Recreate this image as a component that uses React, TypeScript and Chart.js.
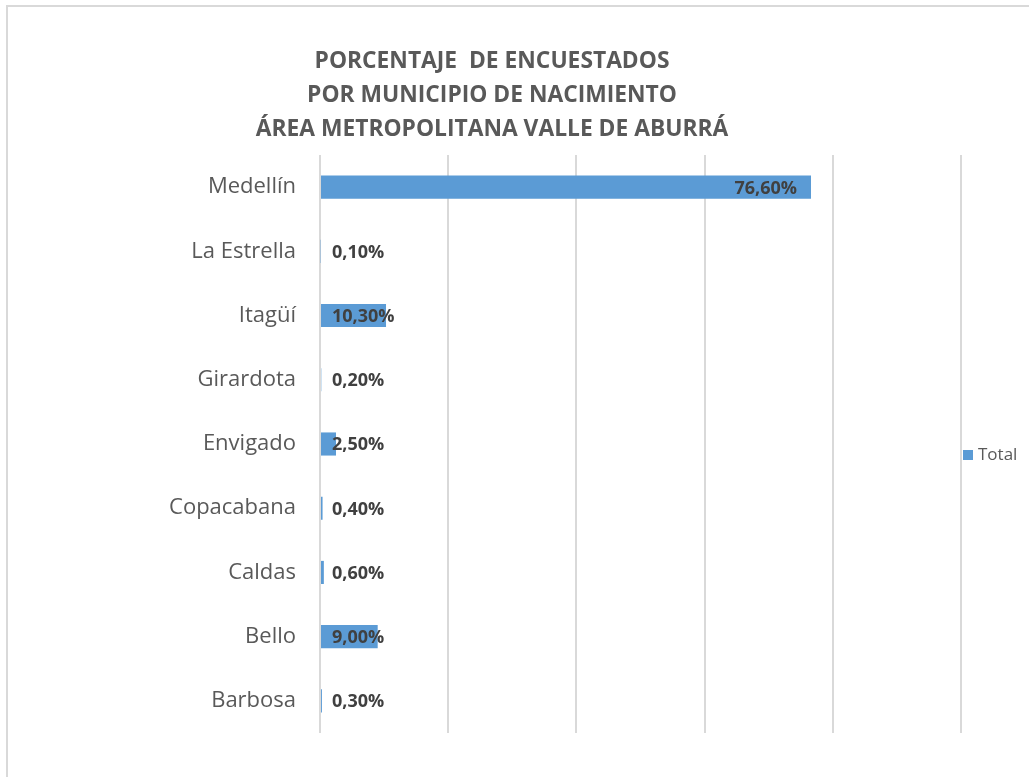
import React, { useEffect, useRef } from "react";
import { Chart, registerables } from "chart.js";

Chart.register(...registerables);

const categories = ["Medellín", "La Estrella", "Itagüí", "Girardota", "Envigado", "Copacabana", "Caldas", "Bello", "Barbosa"];
const totalValues = [76.6, 0.1, 10.3, 0.2, 2.5, 0.4, 0.6, 9.0, 0.3];
const seriesName = "Total";
const titleLines = ["PORCENTAJE  DE ENCUESTADOS", "POR MUNICIPIO DE NACIMIENTO", "ÁREA METROPOLITANA VALLE DE ABURRÁ"];
const xMin = 0;
const xMax = 100;
const xStep = 20;

const BAR_COLOR = "#5b9bd5";
const GRID_COLOR = "#d9d9d9";
const FONT = "'Open Sans', 'Noto Sans', sans-serif";

const fmt = (v: number) => v.toFixed(2).replace(".", ",") + "%";

const decorPlugin = {
  id: "decor",
  beforeDraw(chart: any) {
    const ctx = chart.ctx;
    ctx.save();
    ctx.fillStyle = "#ffffff";
    ctx.fillRect(0, 0, chart.width, chart.height);
    ctx.strokeStyle = GRID_COLOR;
    ctx.lineWidth = 2;
    ctx.strokeRect(7, 6, chart.width + 20, chart.height + 20);
    ctx.restore();
  },
  afterDraw(chart: any) {
    const ctx = chart.ctx;
    const area = chart.chartArea;
    ctx.save();
    // title
    ctx.fillStyle = "#595959";
    ctx.font = `bold 22.8px ${FONT}`;
    ctx.textAlign = "center";
    ctx.textBaseline = "alphabetic";
    titleLines.forEach((line, i) => {
      ctx.fillText(line, 492, 67.5 + i * 34);
    });
    // data labels
    const meta = chart.getDatasetMeta(0);
    ctx.font = `bold 18px ${FONT}`;
    ctx.fillStyle = "#404040";
    meta.data.forEach((bar: any, i: number) => {
      const text = fmt(totalValues[i]);
      const w = ctx.measureText(text).width;
      const barW = bar.x - bar.base;
      const y = bar.y + 6.4;
      if (barW > w + 28) {
        ctx.textAlign = "right";
        ctx.fillText(text, bar.x - 14, y);
      } else {
        ctx.textAlign = "left";
        ctx.fillText(text, bar.base + 11, y);
      }
    });
    // legend
    const ly = (area.top + area.bottom) / 2 + 11;
    ctx.fillStyle = BAR_COLOR;
    ctx.fillRect(area.right + 2, ly - 5, 10, 10);
    ctx.fillStyle = "#595959";
    ctx.font = `17px ${FONT}`;
    ctx.textAlign = "left";
    ctx.textBaseline = "middle";
    ctx.fillText(seriesName, area.right + 17, ly);
    ctx.restore();
  },
};

export default function App() {
  const ref = useRef<HTMLCanvasElement | null>(null);
  useEffect(() => {
    if (!ref.current) return;
    const chart = new Chart(ref.current, {
      type: "bar",
      data: {
        labels: categories,
        datasets: [
          {
            label: seriesName,
            data: totalValues,
            backgroundColor: BAR_COLOR,
            borderWidth: 0,
            categoryPercentage: 1,
            barPercentage: 0.36,
          },
        ],
      },
      options: {
        indexAxis: "y",
        animation: false,
        responsive: false,
        maintainAspectRatio: false,
        layout: { padding: { left: 0, right: 68, top: 155, bottom: 44 } },
        plugins: {
          legend: { display: false },
          title: { display: false },
          tooltip: { enabled: false },
        },
        scales: {
          x: {
            min: xMin,
            max: xMax,
            ticks: { display: false, stepSize: xStep },
            grid: { color: GRID_COLOR, lineWidth: 2, drawTicks: false },
            border: { display: false },
            afterFit: (scale: any) => {
              scale.height = 0;
            },
          },
          y: {
            grid: { display: false, drawTicks: false },
            border: { display: false },
            ticks: {
              color: "#595959",
              font: { family: FONT, size: 22 },
              padding: 24,
            },
            afterFit: (scale: any) => {
              scale.width = 320;
            },
          },
        },
      },
      plugins: [decorPlugin],
    } as any);
    return () => chart.destroy();
  }, []);
  return (
    <div style={{ position: "fixed", left: 0, top: 0, width: 1029, height: 777, overflow: "hidden", background: "#fff" }}>
      <canvas ref={ref} width={1029} height={777} style={{ width: 1029, height: 777, display: "block" }} />
    </div>
  );
}
